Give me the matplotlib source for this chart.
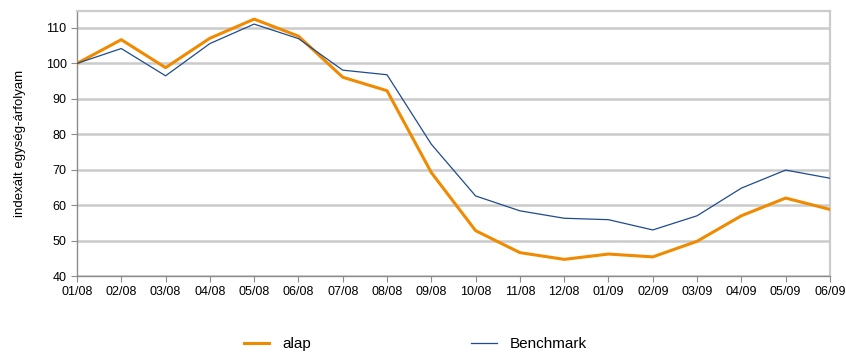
import numpy as np
import matplotlib.pyplot as plt

plt.rcParams['font.family'] = ['Liberation Sans', 'DejaVu Sans']

# data
months = ['01/08', '02/08', '03/08', '04/08', '05/08', '06/08', '07/08', '08/08', '09/08',
          '10/08', '11/08', '12/08', '01/09', '02/09', '03/09', '04/09', '05/09', '06/09']
alap = [100.0, 106.7, 98.8, 107.1, 112.5, 107.7, 96.1, 92.3, 69.2,
        52.8, 46.6, 44.7, 46.2, 45.4, 49.8, 57.0, 62.0, 58.8]
benchmark = [100.0, 104.2, 96.5, 105.6, 111.1, 107.0, 98.1, 96.8, 77.2,
             62.6, 58.4, 56.3, 55.9, 53.0, 57.0, 64.8, 69.9, 67.6]
yticks = [40, 50, 60, 70, 80, 90, 100, 110]

fig = plt.figure(figsize=(8.46, 3.54), dpi=100)
ax = fig.add_axes([0.091, 0.2203, 0.890, 0.7487])

x = np.arange(len(months))
ax.plot(x, alap, color='#F08A00', linewidth=2.2, label='alap', zorder=3)
ax.plot(x, benchmark, color='#1F4B8F', linewidth=0.9, label='Benchmark', zorder=4)

ax.set_xlim(0, len(months) - 1)
ax.set_ylim(40, 114.8)
ax.set_xticks(x)
ax.set_xticklabels(months, fontsize=9)
ax.set_yticks(yticks)
ax.set_yticklabels([str(v) for v in yticks], fontsize=9)
ax.set_ylabel('indexált egység-árfolyam', fontsize=9.5, labelpad=14)

ax.grid(True, axis='y', color='#CBCBCB', linewidth=1.8)
ax.set_axisbelow(True)
for s in ['top', 'right']:
    ax.spines[s].set_color('#CBCBCB')
    ax.spines[s].set_linewidth(1.6)
for s in ['left', 'bottom']:
    ax.spines[s].set_color('#8C8C8C')
    ax.spines[s].set_linewidth(1.0)
ax.tick_params(axis='both', colors='#8C8C8C', length=4, labelcolor='black')
ax.tick_params(axis='x', pad=3)

fig.legend(loc='center', bbox_to_anchor=(0.491, 0.028), ncol=2, frameon=False,
           fontsize=11, handlelength=1.65, handletextpad=0.85, columnspacing=10.5)

plt.savefig('out.png', dpi=100)
